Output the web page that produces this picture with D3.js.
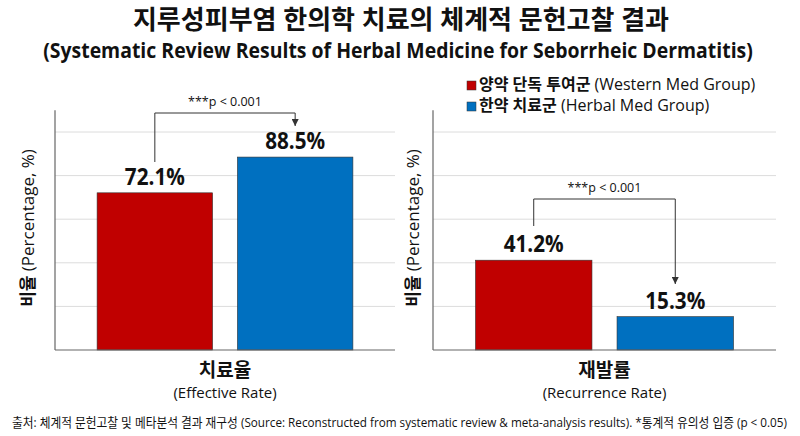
<!DOCTYPE html>
<html>
<head>
<meta charset="utf-8">
<script src="https://cdn.jsdelivr.net/npm/d3@7"></script>
<style>
    body { margin: 0; background: #fff; }
    text { font-family: "Open Sans", "Noto Sans CJK KR", sans-serif; fill: #111; }
</style>
</head>
<body>
<div id="chart"></div>
<script>
// data
var groups = ["양약 단독 투여군", "한약 치료군"];
var groupsEn = ["(Western Med Group)", "(Herbal Med Group)"];
var groupColours = ["#c00000", "#0070c0"];
var metrics = ["치료율", "재발률"];
var metricsEn = ["(Effective Rate)", "(Recurrence Rate)"];
var effectiveRate = [72.1, 88.5];
var recurrenceRate = [41.2, 15.3];
var gridTicks = [20, 40, 60, 80, 100];
var pLabel = "***p < 0.001";

var width = 800;
var height = 436;

var svg = d3.select("#chart")
    .append("svg")
    .attr("width", width)
    .attr("height", height);

svg.append("defs")
    .append("marker")
    .attr("id", "arrow")
    .attr("viewBox", "0 0 10 10")
    .attr("refX", 10)
    .attr("refY", 5)
    .attr("markerWidth", 7)
    .attr("markerHeight", 7)
    .attr("orient", "auto")
    .attr("markerUnits", "userSpaceOnUse")
    .append("path")
    .attr("d", "M0,0 L10,5 L0,10 Z")
    .attr("fill", "#333");

// squeeze a text horizontally so it spans the given width (reference font is narrower)
function squeeze(sel, cx, cy, w, anchor) {
    sel.each(function() {
        var node = d3.select(this);
        var len = this.getComputedTextLength();
        var sx = Math.min(1, w / len);
        node.attr("x", 0).attr("y", 0)
            .attr("text-anchor", anchor || "middle")
            .attr("transform", "translate(" + cx + "," + cy + ") scale(" + sx + ",1)");
    });
}

// titles
svg.append("text")
    .attr("font-size", "26px")
    .attr("font-weight", "bold")
    .text("지루성피부염 한의학 치료의 체계적 문헌고찰 결과")
    .call(squeeze, 401, 29, 543);

svg.append("text")
    .attr("font-size", "21.5px")
    .attr("font-weight", "bold")
    .text("(Systematic Review Results of Herbal Medicine for Seborrheic Dermatitis)")
    .call(squeeze, 398, 58, 710);

var y = d3.scaleLinear()
    .domain([0, 110])
    .range([350, 350 - 110 * 2.18]);

function panel(cfg) {
    var g = svg.append("g");

    var x = d3.scaleBand()
        .domain(groups)
        .range([cfg.x0, cfg.x1])
        .paddingInner(0.177)
        .paddingOuter(0.3);

    g.selectAll(".grid")
        .data(gridTicks)
        .enter()
        .append("line")
        .attr("x1", cfg.x0)
        .attr("x2", cfg.x1)
        .attr("y1", function(d) { return y(d); })
        .attr("y2", function(d) { return y(d); })
        .attr("stroke", "#dcdcdc")
        .attr("stroke-width", 1);

    g.append("line")
        .attr("x1", cfg.x0)
        .attr("x2", cfg.x0)
        .attr("y1", y(110))
        .attr("y2", y(0))
        .attr("stroke", "#666")
        .attr("stroke-width", 1.2);

    g.selectAll(".bar")
        .data(cfg.values)
        .enter()
        .append("rect")
        .attr("x", function(d, i) { return x(groups[i]); })
        .attr("width", x.bandwidth())
        .attr("y", function(d) { return y(d); })
        .attr("height", function(d) { return y(0) - y(d); })
        .attr("fill", function(d, i) { return groupColours[i]; })
        .attr("stroke", "#333")
        .attr("stroke-width", 0.6);

    g.append("line")
        .attr("x1", cfg.x0)
        .attr("x2", cfg.x1)
        .attr("y1", y(0))
        .attr("y2", y(0))
        .attr("stroke", "#666")
        .attr("stroke-width", 1.2);

    g.selectAll(".value")
        .data(cfg.values)
        .enter()
        .append("text")
        .attr("font-size", "24px")
        .attr("font-weight", "bold")
        .text(function(d) { return d.toFixed(1) + "%"; })
        .each(function(d, i) {
            d3.select(this).call(squeeze, x(groups[i]) + x.bandwidth() / 2, y(d) - 8, 60);
        });

    // significance bracket
    var c0 = x(groups[0]) + x.bandwidth() / 2;
    var c1 = x(groups[1]) + x.bandwidth() / 2;
    g.append("path")
        .attr("d", "M" + c0 + "," + cfg.br[0] + " V" + cfg.br[1] + " H" + c1 + " V" + cfg.br[2])
        .attr("fill", "none")
        .attr("stroke", "#333")
        .attr("stroke-width", 1)
        .attr("marker-end", "url(#arrow)");

    g.append("text")
        .attr("x", (c0 + c1) / 2)
        .attr("y", cfg.br[1] - 7)
        .attr("text-anchor", "middle")
        .attr("font-size", "12.5px")
        .text(pLabel);

    // y label
    var yl = g.append("text")
        .attr("transform", "translate(" + cfg.yLabelX + ",228) rotate(-90)")
        .attr("text-anchor", "middle")
        .attr("font-size", "17px");
    yl.append("tspan").attr("font-weight", "bold").text("비율");
    yl.append("tspan").text(" (Percentage, %)");

    var mid = (cfg.x0 + cfg.x1) / 2;
    g.append("text")
        .attr("x", mid)
        .attr("y", 377)
        .attr("text-anchor", "middle")
        .attr("font-size", "19px")
        .attr("font-weight", "bold")
        .text(cfg.name);
    g.append("text")
        .attr("x", mid)
        .attr("y", 398)
        .attr("text-anchor", "middle")
        .attr("font-size", "15px")
        .text(cfg.nameEn);
}

panel({ x0: 55, x1: 395, values: effectiveRate, name: metrics[0], nameEn: metricsEn[0],
        br: [162, 113, 126], yLabelX: 34 });
panel({ x0: 433, x1: 776, values: recurrenceRate, name: metrics[1], nameEn: metricsEn[1],
        br: [226, 199, 284], yLabelX: 419 });

// legend
var legend = svg.append("g")
    .attr("transform", "translate(467,0)");

var items = legend.selectAll(".item")
    .data(groups)
    .enter()
    .append("g")
    .attr("transform", function(d, i) { return "translate(0," + (81 + i * 21) + ")"; });

items.append("rect")
    .attr("width", 9)
    .attr("height", 9)
    .attr("fill", function(d, i) { return groupColours[i]; })
    .attr("stroke", "#333")
    .attr("stroke-width", 0.5);

var lt = items.append("text")
    .attr("x", 12)
    .attr("y", 9)
    .attr("font-size", "16px");
lt.append("tspan").attr("font-weight", "bold").text(function(d) { return d; });
lt.append("tspan").text(function(d, i) { return " " + groupsEn[i]; });

// footer
svg.append("text")
    .attr("font-size", "13px")
    .text("출처: 체계적 문헌고찰 및 메타분석 결과 재구성 (Source: Reconstructed from systematic review & meta-analysis results). *통계적 유의성 입증 (p < 0.05)")
    .call(squeeze, 12, 427, 776, "start");
</script>
</body>
</html>
